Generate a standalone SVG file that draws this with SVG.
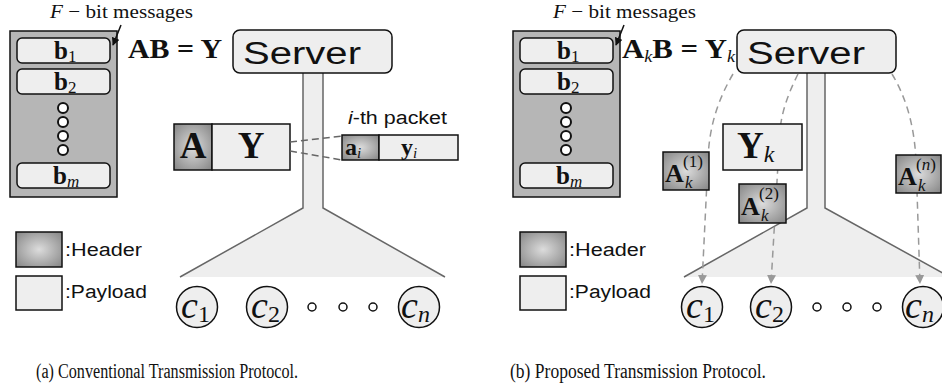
<svg xmlns="http://www.w3.org/2000/svg" width="942" height="391" viewBox="0 0 942 391">
<defs>
  <radialGradient id="hdr" cx="0.5" cy="0.5" r="0.75">
    <stop offset="0" stop-color="#dcdcdc"/>
    <stop offset="1" stop-color="#7e7e7e"/>
  </radialGradient>
  <marker id="arr" viewBox="0 0 10 10" refX="10" refY="5" markerWidth="9" markerHeight="9" markerUnits="userSpaceOnUse" orient="auto">
    <path d="M0,0 L10,5 L0,10 z" fill="#999"/>
  </marker>
  <marker id="blk" viewBox="0 0 10 10" refX="9" refY="5" markerWidth="8" markerHeight="8" markerUnits="userSpaceOnUse" orient="auto">
    <path d="M0,0 L10,5 L0,10 z" fill="#111"/>
  </marker>
</defs>
<style>
  .outer{fill:#b6b6b6;stroke:#111;stroke-width:1.5}
  .pay{fill:#eeeeee;stroke:#111;stroke-width:1.5}
  .hdr{fill:url(#hdr);stroke:#111;stroke-width:1.5}
  .net{fill:#eeeeee;stroke:none}
  .netl{fill:none;stroke:#666;stroke-width:1.5}
  .cli{fill:#eeeeee;stroke:#111;stroke-width:1.5}
  .dot{fill:#fff;stroke:#111;stroke-width:1.5}
  .vdot{fill:#fff;stroke:#111;stroke-width:2}
  .serif{font-family:"Liberation Serif","DejaVu Serif",serif;fill:#111}
  .sans{font-family:"Liberation Sans",Arial,sans-serif;fill:#111}
  .bold{font-weight:bold}
  .it{font-style:italic}
  .dash{fill:none;stroke:#999;stroke-width:1.5;stroke-dasharray:7,5}
  .pdash{fill:none;stroke:#666;stroke-width:1.5;stroke-dasharray:7,4}
  .cap{font-family:"Liberation Serif","Times New Roman",serif;font-size:20px;fill:#111}
</style>

<!-- ============ Panel (a) ============ -->
<g id="a-network">
  <polygon class="net" points="303,73 323,73 323,208 445,277 180,277 303,208"/>
  <path class="netl" d="M303,73 V208 L180,277 M323,73 V208 L445,277"/>
</g>
<g id="a-messages">
  <rect class="outer" x="10" y="31" width="107" height="166"/>
  <rect class="pay" x="17" y="38" width="93" height="25" rx="5"/>
  <rect class="pay" x="17" y="69" width="93" height="25" rx="5"/>
  <rect class="pay" x="17" y="163" width="93" height="25" rx="5"/>
  <text class="serif bold" x="54" y="59" font-size="25">b<tspan font-weight="normal" font-size="17" dy="3">1</tspan></text>
  <text class="serif bold" x="54" y="90" font-size="25">b<tspan font-weight="normal" font-size="17" dy="3">2</tspan></text>
  <text class="serif bold" x="53" y="184" font-size="25">b<tspan font-weight="normal" font-style="italic" font-size="17" dy="3">m</tspan></text>
  <circle class="vdot" cx="63" cy="108" r="5"/>
  <circle class="vdot" cx="63" cy="122" r="5"/>
  <circle class="vdot" cx="63" cy="136" r="5"/>
  <circle class="vdot" cx="63" cy="150" r="5"/>
</g>
<g id="a-label">
  <text class="serif" x="50" y="18" font-size="19" textLength="143" lengthAdjust="spacingAndGlyphs"><tspan font-style="italic">F</tspan> − bit messages</text>
  <text class="serif bold" x="128" y="58" font-size="27" textLength="94" lengthAdjust="spacingAndGlyphs">AB = Y</text>
</g>
<g id="a-server">
  <rect class="pay" x="233" y="30" width="159" height="43" rx="7"/>
  <text class="sans" x="243" y="64" font-size="31" textLength="118" lengthAdjust="spacingAndGlyphs">Server</text>
</g>
<g id="a-packet">
  <rect class="hdr" x="174" y="124" width="38" height="46"/>
  <rect class="pay" x="212" y="124" width="78" height="46"/>
  <text class="serif bold" x="193" y="158" font-size="37" text-anchor="middle">A</text>
  <text class="serif bold" x="251" y="158" font-size="37" text-anchor="middle">Y</text>
</g>
<g id="a-ipacket">
  <text class="sans" x="348" y="124" font-size="18" textLength="99" lengthAdjust="spacingAndGlyphs"><tspan font-style="italic">i</tspan>-th packet</text>
  <rect class="hdr" x="342" y="135" width="37" height="25"/>
  <rect class="pay" x="379" y="135" width="79" height="25"/>
  <text class="serif bold" x="345" y="155" font-size="24">a<tspan font-weight="normal" font-style="italic" font-size="15" dy="3">i</tspan></text>
  <text class="serif bold" x="401" y="155" font-size="24">y<tspan font-weight="normal" font-style="italic" font-size="15" dy="3">i</tspan></text>
</g>
<g id="a-legend">
  <rect class="hdr" x="16" y="232" width="46" height="35"/>
  <rect class="pay" x="16" y="276" width="46" height="34"/>
  <text class="sans" x="65" y="256" font-size="18" textLength="77" lengthAdjust="spacingAndGlyphs">:Header</text>
  <text class="sans" x="65" y="298" font-size="18" textLength="82" lengthAdjust="spacingAndGlyphs">:Payload</text>
</g>
<g id="a-clients">
  <circle class="cli" cx="197" cy="307" r="20.5"/>
  <text class="serif it" x="181" y="318" font-size="38">c<tspan font-style="normal" font-size="24" dy="4">1</tspan></text>
  <circle class="cli" cx="267" cy="307" r="20.5"/>
  <text class="serif it" x="251" y="318" font-size="38">c<tspan font-style="normal" font-size="24" dy="4">2</tspan></text>
  <circle class="dot" cx="312" cy="307" r="4"/>
  <circle class="dot" cx="343" cy="307" r="4"/>
  <circle class="dot" cx="373" cy="307" r="4"/>
  <circle class="cli" cx="419" cy="307" r="20.5"/>
  <text class="serif it" x="401" y="318" font-size="38">c<tspan font-size="24" dy="4">n</tspan></text>
</g>
<g id="a-connectors">
  <path d="M121,25 L113,45" stroke="#111" stroke-width="1.5" fill="none" marker-end="url(#blk)"/>
  <path class="pdash" d="M290,142 L342,136 M290,151 L342,160"/>
</g>
<text class="cap" x="36" y="378" textLength="262" lengthAdjust="spacingAndGlyphs">(a) Conventional Transmission Protocol.</text>

<!-- ============ Panel (b) ============ -->
<g id="b-network">
  <polygon class="net" points="807,73 825,73 825,208 950,277 684,277 807,208"/>
  <path class="netl" d="M807,73 V208 L684,277 M825,73 V208 L950,277"/>
</g>
<g id="b-messages">
  <rect class="outer" x="513" y="31" width="107" height="166"/>
  <rect class="pay" x="520" y="38" width="93" height="25" rx="5"/>
  <rect class="pay" x="520" y="69" width="93" height="25" rx="5"/>
  <rect class="pay" x="520" y="163" width="93" height="25" rx="5"/>
  <text class="serif bold" x="557" y="59" font-size="25">b<tspan font-weight="normal" font-size="17" dy="3">1</tspan></text>
  <text class="serif bold" x="557" y="90" font-size="25">b<tspan font-weight="normal" font-size="17" dy="3">2</tspan></text>
  <text class="serif bold" x="556" y="184" font-size="25">b<tspan font-weight="normal" font-style="italic" font-size="17" dy="3">m</tspan></text>
  <circle class="vdot" cx="566" cy="108" r="5"/>
  <circle class="vdot" cx="566" cy="122" r="5"/>
  <circle class="vdot" cx="566" cy="136" r="5"/>
  <circle class="vdot" cx="566" cy="150" r="5"/>
</g>
<g id="b-label">
  <text class="serif" x="553" y="18" font-size="19" textLength="143" lengthAdjust="spacingAndGlyphs"><tspan font-style="italic">F</tspan> − bit messages</text>
  <text class="serif bold" x="622" y="58" font-size="27" textLength="113" lengthAdjust="spacingAndGlyphs">A<tspan font-weight="normal" font-style="italic" font-size="16" dy="4">k</tspan><tspan dy="-4">B = Y</tspan><tspan font-weight="normal" font-style="italic" font-size="16" dy="4">k</tspan></text>
</g>
<g id="b-server">
  <rect class="pay" x="737" y="30" width="159" height="43" rx="7"/>
  <text class="sans" x="747" y="64" font-size="31" textLength="118" lengthAdjust="spacingAndGlyphs">Server</text>
</g>
<g id="b-connectors">
  <path class="dash" d="M733,74 C719,98 709,125 708,160 L702,284" marker-end="url(#arr)"/>
  <path class="dash" d="M798,74 C789,92 782,110 780,130 L771,284" marker-end="url(#arr)"/>
  <path class="dash" d="M892,74 C905,96 914,122 916,160 L920,284" marker-end="url(#arr)"/>
  <path d="M624,25 L616,45" stroke="#111" stroke-width="1.5" fill="none" marker-end="url(#blk)"/>
</g>
<g id="b-payload">
  <rect class="pay" x="723" y="124" width="79" height="46"/>
  <text class="serif bold" x="737" y="158" font-size="37">Y<tspan font-weight="normal" font-style="italic" font-size="24" dy="4">k</tspan></text>
</g>
<g id="b-hdr1">
  <rect class="hdr" x="663" y="152" width="46" height="38"/>
  <text class="serif bold" x="665" y="182" font-size="26">A</text>
  <text class="serif it" x="685" y="188" font-size="17">k</text>
  <text class="serif" x="683" y="167" font-size="17">(1)</text>
</g>
<g id="b-hdr2">
  <rect class="hdr" x="739" y="184" width="47" height="39"/>
  <text class="serif bold" x="741" y="215" font-size="26">A</text>
  <text class="serif it" x="761" y="221" font-size="17">k</text>
  <text class="serif" x="759" y="199" font-size="17">(2)</text>
</g>
<g id="b-hdrn">
  <rect class="hdr" x="896" y="155" width="45" height="38"/>
  <text class="serif bold" x="898" y="185" font-size="26">A</text>
  <text class="serif it" x="918" y="191" font-size="17">k</text>
  <text class="serif" x="916" y="170" font-size="17">(<tspan font-style="italic">n</tspan>)</text>
</g>
<g id="b-legend">
  <rect class="hdr" x="520" y="232" width="46" height="35"/>
  <rect class="pay" x="520" y="276" width="46" height="34"/>
  <text class="sans" x="569" y="256" font-size="18" textLength="77" lengthAdjust="spacingAndGlyphs">:Header</text>
  <text class="sans" x="569" y="298" font-size="18" textLength="82" lengthAdjust="spacingAndGlyphs">:Payload</text>
</g>
<g id="b-clients">
  <circle class="cli" cx="702" cy="307" r="20.5"/>
  <text class="serif it" x="686" y="318" font-size="38">c<tspan font-style="normal" font-size="24" dy="4">1</tspan></text>
  <circle class="cli" cx="771" cy="307" r="20.5"/>
  <text class="serif it" x="755" y="318" font-size="38">c<tspan font-style="normal" font-size="24" dy="4">2</tspan></text>
  <circle class="dot" cx="817" cy="307" r="4"/>
  <circle class="dot" cx="847" cy="307" r="4"/>
  <circle class="dot" cx="877" cy="307" r="4"/>
  <circle class="cli" cx="923" cy="307" r="20.5"/>
  <text class="serif it" x="905" y="318" font-size="38">c<tspan font-size="24" dy="4">n</tspan></text>
</g>
<text class="cap" x="510" y="378" textLength="256" lengthAdjust="spacingAndGlyphs">(b) Proposed Transmission Protocol.</text>
</svg>
